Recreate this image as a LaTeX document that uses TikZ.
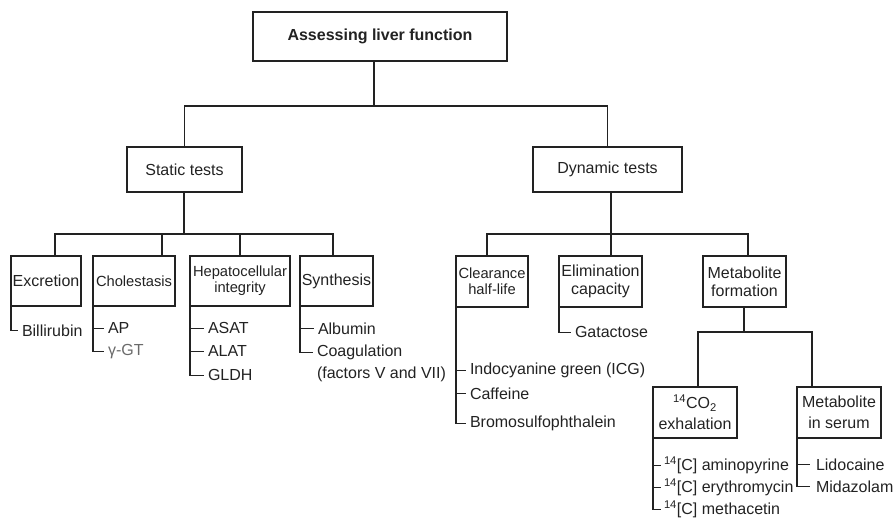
\documentclass[tikz,border=0pt]{standalone}
\usepackage{fontspec}
\setmainfont{Liberation Sans}
\definecolor{ink}{HTML}{222222}
\definecolor{greyink}{HTML}{6A6A6A}
\begin{document}
\begin{tikzpicture}[x=1pt,y=-1pt,
  box/.style={draw=ink, line width=1.1pt, rectangle, inner sep=0pt, outer sep=0pt, align=center, text=ink, font=\fontsize{16}{18}\selectfont},
  smallbox/.style={box, font=\fontsize{14.7}{16}\selectfont},
  lowbox/.style={box, font=\fontsize{16}{21}\selectfont},
  item/.style={anchor=mid west, inner ysep=0pt, inner xsep=4pt, outer sep=0pt, text=ink, font=\fontsize{16}{18}\selectfont},
  link/.style={draw=ink, line width=1.1pt}]
\useasboundingbox (0,0) rectangle (896,530);

% boxes
\node[box, minimum width=254pt, minimum height=49pt, font=\bfseries\fontsize{16}{18}\selectfont] (top) at (380,36.5) {Assessing liver function};
\node[box, minimum width=115pt, minimum height=45pt] (static) at (184.5,169.5) {Static tests};
\node[box, minimum width=149pt, minimum height=45pt] (dynamic) at (607.5,169.5) {Dynamic tests};

\node[box, minimum width=70pt, minimum height=50pt] (excretion) at (46,281) {Excretion};
\node[smallbox, minimum width=82pt, minimum height=50pt] (cholestasis) at (134,281) {Cholestasis};
\node[smallbox, minimum width=100pt, minimum height=50pt] (hepato) at (240,281) {Hepatocellular\\integrity};
\node[box, minimum width=73pt, minimum height=50pt] (synthesis) at (336.5,281) {Synthesis};

\node[smallbox, minimum width=72pt, minimum height=51pt] (clearance) at (492,281.5) {Clearance\\half-life};
\node[box, minimum width=83pt, minimum height=51pt] (elimination) at (600.5,281.5) {Elimination\\capacity};
\node[box, minimum width=83pt, minimum height=51pt] (metform) at (744.5,281.5) {Metabolite\\formation};

\node[lowbox, minimum width=84pt, minimum height=51pt] (co2) at (695,412.5) {\textsuperscript{14}CO\textsubscript{2}\\exhalation};
\node[lowbox, minimum width=84pt, minimum height=51pt] (serum) at (839,412.5) {Metabolite\\in serum};

% tree connectors
\coordinate (h1) at (374,106);
\draw[link] (h1 |- top.south) -- (h1);
\draw[link] (static.north) |- (dynamic.north |- h1) -- (dynamic.north);

\coordinate (a0) at (184,234);
\coordinate (a1) at (55,234);
\coordinate (a2) at (162,234);
\coordinate (a3) at (240,234);
\coordinate (a4) at (333,234);
\draw[link] (static.south -| a0) -- (a0);
\draw[link] (a1 |- excretion.north) -- (a1) -- (a4) -- (a4 |- synthesis.north);
\draw[link] (a2) -- (a2 |- cholestasis.north);
\draw[link] (a3) -- (a3 |- hepato.north);

\coordinate (b0) at (611,234);
\coordinate (b1) at (487,234);
\coordinate (b3) at (748,234);
\draw[link] (dynamic.south -| b0) -- (b0);
\draw[link] (b1 |- clearance.north) -- (b1) -- (b3) -- (b3 |- metform.north);
\draw[link] (b0) -- (b0 |- elimination.north);

\coordinate (c0) at (744,332);
\coordinate (c1) at (698,332);
\coordinate (c2) at (812,332);
\draw[link] (metform.south -| c0) -- (c0);
\draw[link] (c1 |- co2.north) -- (c1) -- (c2) -- (c2 |- serum.north);

% lists
\node[item] (bil) at (18,334) {Billirubin};
\draw[link] (excretion.south west) |- (bil.west);

\node[item] (ap) at (104,331) {AP};
\node[item, text=greyink] (ggt) at (104,353) {γ-GT};
\draw[link] (cholestasis.south west) |- (ap.west);
\draw[link] (cholestasis.south west) |- (ggt.west);

\node[item] (asat) at (204,331) {ASAT};
\node[item] (alat) at (204,354) {ALAT};
\node[item] (gldh) at (204,378) {GLDH};
\draw[link] (hepato.south west) |- (asat.west);
\draw[link] (hepato.south west) |- (alat.west);
\draw[link] (hepato.south west) |- (gldh.west);

\node[item] (alb) at (314,332) {Albumin};
\node[item] (coag) at (313,354) {Coagulation};
\node[item] (fact) at (313,376) {(factors V and VII)};
\draw[link] (synthesis.south west) |- (alb.west);
\draw[link] (synthesis.south west) |- (coag.west);

\node[item] (icg) at (466,372) {Indocyanine green (ICG)};
\node[item] (caf) at (466,397) {Caffeine};
\node[item] (bsp) at (466,425) {Bromosulfophthalein};
\draw[link] (clearance.south west) |- (icg.west);
\draw[link] (clearance.south west) |- (caf.west);
\draw[link] (clearance.south west) |- (bsp.west);

\node[item] (gal) at (571,335) {Gatactose};
\draw[link] (elimination.south west) |- (gal.west);

\node[item, inner xsep=3pt] (amino) at (661,468) {\textsuperscript{14}[C] aminopyrine};
\node[item, inner xsep=3pt] (ery) at (661,490) {\textsuperscript{14}[C] erythromycin};
\node[item, inner xsep=3pt] (meth) at (661,512) {\textsuperscript{14}[C] methacetin};
\draw[link] (co2.south west) |- (amino.west);
\draw[link] (co2.south west) |- (ery.west);
\draw[link] (co2.south west) |- (meth.west);

\node[item, inner xsep=6pt] (lido) at (810,468) {Lidocaine};
\node[item, inner xsep=6pt] (mida) at (810,490) {Midazolam};
\draw[link] (serum.south west) |- (lido.west);
\draw[link] (serum.south west) |- (mida.west);
\end{tikzpicture}
\end{document}
